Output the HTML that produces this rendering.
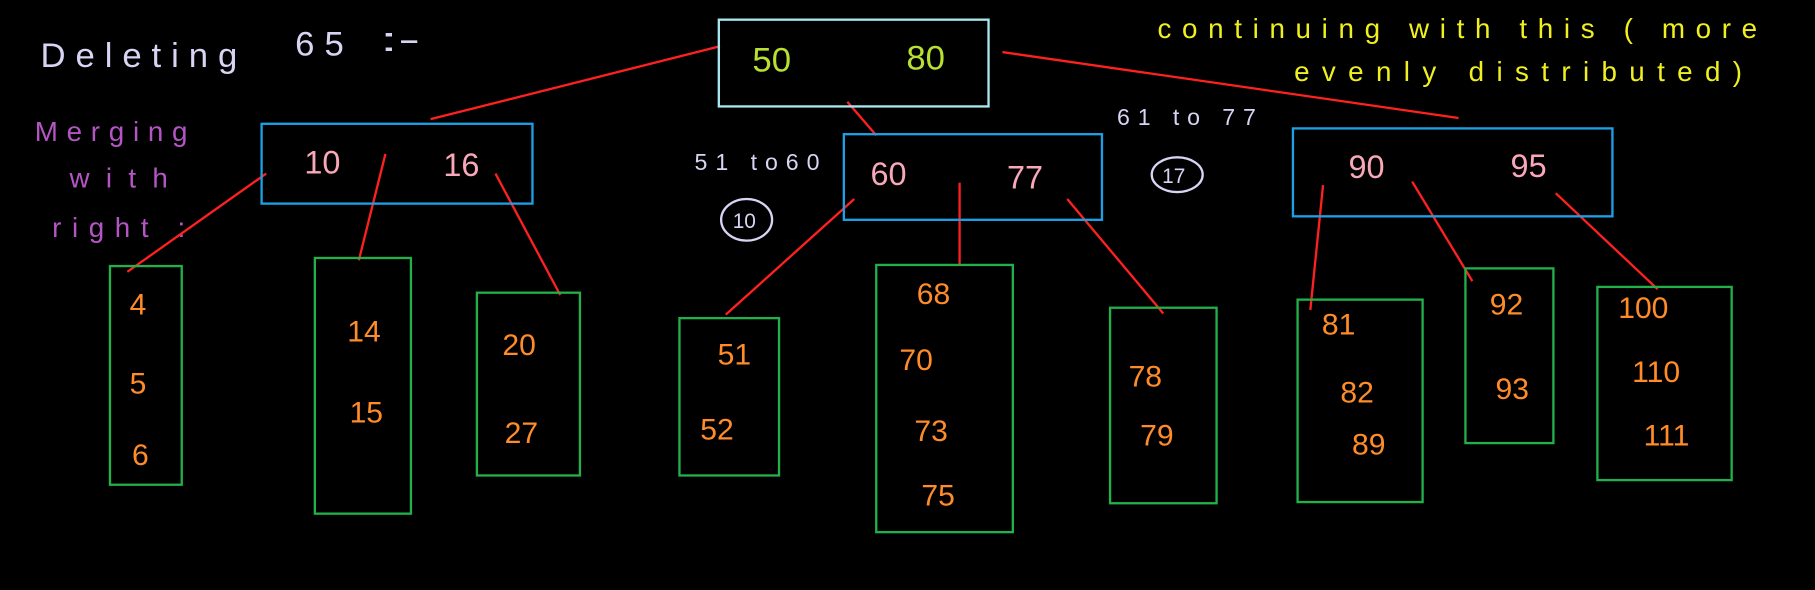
<!DOCTYPE html>
<html><head><meta charset="utf-8"><style>
html,body{margin:0;padding:0;background:#000;width:1815px;height:590px;overflow:hidden}
svg{display:block}
text{font-family:"Liberation Sans",sans-serif}
</style></head><body>
<svg width="1815" height="590" viewBox="0 0 1568 510" preserveAspectRatio="none" xmlns="http://www.w3.org/2000/svg">
<rect width="1568" height="510" fill="#000"/>
<g fill="#d8d4f4" font-size="30">
<text x="35" y="58" textLength="170" lengthAdjust="spacing">Deleting</text><text x="255" y="48" textLength="42" lengthAdjust="spacing">65</text><text x="328" y="44" textLength="35" lengthAdjust="spacingAndGlyphs">:-</text>
</g>
<g fill="#b455c4" font-size="24">
<text x="30" y="122" textLength="132" lengthAdjust="spacing">Merging</text><text x="60" y="162" textLength="85" lengthAdjust="spacing">with</text><text x="45" y="205" textLength="115" lengthAdjust="spacing">right :</text>
</g>
<g fill="#f0f020" font-size="24">
<text x="1000" y="33" textLength="518" lengthAdjust="spacing">continuing  with  this ( more</text>
<text x="1118" y="70" textLength="387" lengthAdjust="spacing">evenly   distributed)</text>
</g>
<g fill="#d8d4f4" font-size="20">
<text x="600" y="147" textLength="108" lengthAdjust="spacing">51 to60</text><text x="965" y="108" textLength="120" lengthAdjust="spacing">61 to 77</text>
<ellipse cx="645" cy="190" rx="22" ry="18" fill="none" stroke="#d8d4f4" stroke-width="2"/>
<text x="633" y="197" font-size="18">10</text>
<ellipse cx="1017" cy="151" rx="22" ry="15" fill="none" stroke="#d8d4f4" stroke-width="2"/>
<text x="1004" y="158" font-size="18">17</text>
</g>
<g stroke="#ff2020" stroke-width="2" fill="none">
<line x1="622" y1="40" x2="372" y2="103"/><line x1="732" y1="88" x2="757" y2="117"/><line x1="866" y1="45" x2="1260" y2="102"/>
<line x1="230" y1="150" x2="110" y2="235"/><line x1="333" y1="133" x2="310" y2="225"/><line x1="428" y1="150" x2="484" y2="255"/>
<line x1="738" y1="172" x2="627" y2="272"/><line x1="829" y1="158" x2="829" y2="229"/><line x1="922" y1="172" x2="1005" y2="271"/>
<line x1="1143" y1="160" x2="1132" y2="268"/><line x1="1220" y1="157" x2="1272" y2="243"/><line x1="1344" y1="167" x2="1432" y2="250"/>
</g>
<g>
<rect x="621" y="17" width="233" height="75" fill="none" stroke="#a8e8f0" stroke-width="2"/>
<text x="650" y="62" fill="#b8e030" font-size="30">50</text><text x="783" y="60" fill="#b8e030" font-size="30">80</text>
</g>
<g stroke="#1ea0e6" stroke-width="2" fill="none">
<rect x="226" y="107" width="234" height="69"/><rect x="729" y="116" width="223" height="74"/><rect x="1117" y="111" width="276" height="76"/>
</g>
<g fill="#f8a8b8" font-size="28">
<text x="263" y="150">10</text><text x="383" y="152">16</text>
<text x="752" y="160">60</text><text x="870" y="163">77</text>
<text x="1165" y="154">90</text><text x="1305" y="153">95</text>
</g>
<g stroke="#22b04a" stroke-width="2" fill="none">
<rect x="95" y="230" width="62" height="189"/><rect x="272" y="223" width="83" height="221"/><rect x="412" y="253" width="89" height="158"/>
<rect x="587" y="275" width="86" height="136"/><rect x="757" y="229" width="118" height="231"/><rect x="959" y="266" width="92" height="169"/>
<rect x="1121" y="259" width="108" height="175"/><rect x="1266" y="232" width="76" height="151"/><rect x="1380" y="248" width="116" height="167"/>
</g>
<g fill="#ff8c28" font-size="26">
<text x="112" y="272">4</text><text x="112" y="340">5</text><text x="114" y="402">6</text>
<text x="300" y="295">14</text><text x="302" y="365">15</text>
<text x="434" y="307">20</text><text x="436" y="383">27</text>
<text x="620" y="315">51</text><text x="605" y="380">52</text>
<text x="792" y="263">68</text><text x="777" y="320">70</text><text x="790" y="381">73</text><text x="796" y="437">75</text>
<text x="975" y="334">78</text><text x="985" y="385">79</text>
<text x="1142" y="289">81</text><text x="1158" y="348">82</text><text x="1168" y="393">89</text>
<text x="1287" y="272">92</text><text x="1292" y="345">93</text>
<text x="1398" y="275">100</text><text x="1410" y="330">110</text><text x="1420" y="385">111</text>
</g>
</svg>
</body></html>
